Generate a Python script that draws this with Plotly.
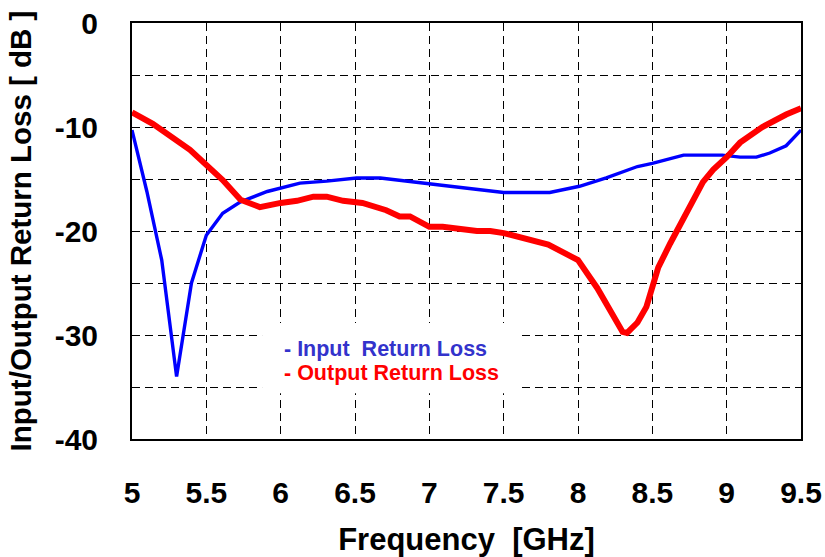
import plotly.graph_objects as go

# Input return loss (S11) vs frequency
freq_in = [5.0, 5.1, 5.2, 5.3, 5.4, 5.5, 5.61, 5.73, 5.91, 6.13, 6.31, 6.51, 6.67,
           6.8, 7.14, 7.5, 7.81, 8.01, 8.19, 8.4, 8.5, 8.71, 8.97, 9.09, 9.2, 9.29,
           9.4, 9.5]
s11_db = [-10.3, -16.2, -22.8, -34.0, -25.0, -20.4, -18.3, -17.2, -16.2, -15.4, -15.2,
          -14.9, -14.9, -15.1, -15.7, -16.3, -16.3, -15.7, -14.9, -13.8, -13.5, -12.7,
          -12.7, -12.9, -12.9, -12.5, -11.8, -10.3]

# Output return loss (S22) vs frequency
freq_out = [5.0, 5.14, 5.39, 5.61, 5.73, 5.86, 6.0, 6.11, 6.22, 6.31, 6.42, 6.55, 6.71,
            6.8, 6.87, 7.0, 7.09, 7.32, 7.41, 7.5, 7.8, 8.0, 8.13, 8.23, 8.3, 8.33,
            8.4, 8.46, 8.54, 8.62, 8.71, 8.77, 8.84, 8.91, 9.0, 9.09, 9.24, 9.4, 9.5]
s22_db = [-8.6, -9.7, -12.2, -15.1, -17.0, -17.7, -17.3, -17.1, -16.7, -16.7, -17.1,
          -17.3, -18.0, -18.6, -18.6, -19.6, -19.6, -20.0, -20.0, -20.2, -21.3, -22.8,
          -25.5, -28.1, -29.7, -29.8, -28.8, -27.3, -23.5, -21.2, -18.9, -17.3, -15.3,
          -14.1, -12.9, -11.5, -10.0, -8.8, -8.2]

x_ticks = [5, 5.5, 6, 6.5, 7, 7.5, 8, 8.5, 9, 9.5]
x_tick_text = ["5", "5.5", "6", "6.5", "7", "7.5", "8", "8.5", "9", "9.5"]
y_ticks = [0, -10, -20, -30, -40]
y_tick_text = ["0", "-10", "-20", "-30", "-40"]

legend_labels = ["- Input\u00a0\u00a0Return Loss", "- Output Return Loss"]

FONT = "Liberation Sans, Arial, sans-serif"
GRID = dict(gridcolor="black", gridwidth=1, griddash="8px,5px")

fig = go.Figure()
fig.add_trace(go.Scatter(x=freq_in, y=s11_db, mode="lines",
                         line=dict(color="#0000FF", width=3.4), showlegend=False))
fig.add_trace(go.Scatter(x=freq_out, y=s22_db, mode="lines",
                         line=dict(color="#FF0000", width=6), showlegend=False))

# white panel behind the text legend, hiding the grid there
fig.add_shape(type="rect", xref="x", yref="y", x0=5.875, x1=7.59, y0=-35.6, y1=-28.85,
              fillcolor="white", line=dict(width=0), layer="between")
fig.add_annotation(x=6.01, y=-31.3, xref="x", yref="y", text=legend_labels[0],
                   showarrow=False, xanchor="left", yanchor="middle",
                   font=dict(family=FONT, size=21.5, color="#3333CC", weight="bold"))
fig.add_annotation(x=6.01, y=-33.7, xref="x", yref="y", text=legend_labels[1],
                   showarrow=False, xanchor="left", yanchor="middle",
                   font=dict(family=FONT, size=21.5, color="#FF0000", weight="bold"))

fig.update_layout(
    width=825, height=557,
    margin=dict(l=132, r=24, t=23, b=118),
    paper_bgcolor="white", plot_bgcolor="white",
    font=dict(family=FONT, color="black"),
    xaxis=dict(
        range=[5, 9.5], tickvals=x_ticks, ticktext=x_tick_text,
        automargin=False,
        showgrid=True, **GRID, zeroline=False,
        showline=True, linecolor="black", linewidth=2, mirror=True,
        ticks="", ticklabelstandoff=26,
        tickfont=dict(family=FONT, size=30, weight="bold"),
        title=dict(text="Frequency\u00a0\u00a0[GHz]", standoff=22,
                   font=dict(family=FONT, size=31, weight="bold")),
    ),
    yaxis=dict(
        range=[-40, 0], tickvals=y_ticks, ticktext=y_tick_text,
        automargin=False,
        showgrid=True, **GRID, zeroline=False,
        minor=dict(dtick=5, tick0=0, showgrid=True, **GRID),
        showline=True, linecolor="black", linewidth=2, mirror=True,
        ticks="", ticklabelstandoff=26,
        tickfont=dict(family=FONT, size=30, weight="bold"),
        title=dict(text="Input/Output Return Loss [ dB ]", standoff=14,
                   font=dict(family=FONT, size=29.5, weight="bold")),
    ),
)

fig.write_html("out.html")
